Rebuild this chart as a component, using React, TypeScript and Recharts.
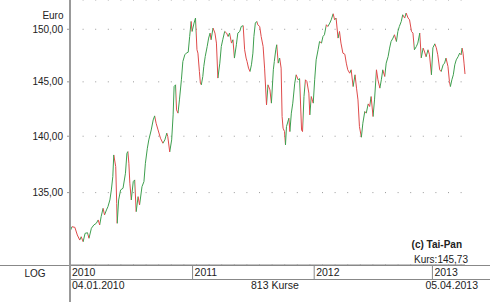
import React from 'react';
import { LineChart, Line, XAxis, YAxis, CartesianGrid } from 'recharts';

// Handelstag-Nummer (0 = 04.01.2010, 812 = 05.04.2013) und Schlusskurs in Euro
const kursTag = [
  0, 4, 10, 15, 20, 23, 27, 31, 36, 39, 44, 49, 54, 58, 61, 64, 68, 71, 75, 78,
  82, 85, 88, 90, 94, 96, 97, 100, 104, 109, 114, 117, 119, 121, 123, 126, 130, 133, 136, 140,
  143, 148, 152, 155, 159, 162, 167, 171, 174, 177, 181, 186, 191, 195, 199, 201, 205, 209, 212, 214,
  217, 219, 222, 225, 229, 232, 236, 239, 243, 246, 249, 251, 255, 258, 261, 263, 266, 268, 270, 273,
  275, 278, 282, 285, 288, 290, 294, 298, 301, 304, 308, 311, 314, 318, 322, 325, 328, 332, 335, 338,
  342, 345, 349, 352, 356, 359, 362, 364, 367, 370, 373, 376, 378, 381, 384, 386, 390, 393, 397, 400,
  404, 407, 411, 414, 418, 420, 423, 425, 428, 431, 434, 436, 438, 441, 443, 445, 450, 452, 455, 458,
  462, 465, 469, 472, 476, 478, 481, 484, 487, 491, 493, 496, 500, 503, 506, 510, 513, 517, 520, 523,
  527, 530, 534, 537, 541, 544, 547, 551, 554, 557, 561, 565, 568, 571, 575, 578, 582, 586, 589, 592,
  595, 599, 602, 606, 609, 613, 616, 619, 623, 626, 630, 633, 637, 640, 643, 647, 650, 654, 657, 660,
  664, 667, 671, 674, 677, 681, 684, 688, 691, 695, 698, 702, 705, 708, 712, 715, 719, 722, 726, 729,
  732, 736, 739, 743, 746, 750, 753, 756, 760, 763, 767, 770, 773, 777, 780, 782, 785, 788, 791, 794,
  798, 801, 804, 806, 808, 810, 812,
];

const kursWert = [
  131.64, 132.06, 132.01, 131.36, 130.93, 131.21, 130.79, 131.5, 131.55, 131.08, 131.93, 132.21, 132.35, 132.64, 132.21, 132.92, 133.64, 133.07, 133.5, 133.78,
  134.36, 135.23, 136.4, 138.32, 137.28, 134.07, 132.35, 134.36, 135.23, 135.38, 136.7, 138.47, 138.62, 137.58, 135.82, 134.36, 135.96, 136.11, 133.35, 134.65,
  133.93, 135.52, 135.96, 137.58, 138.92, 139.67, 140.57, 141.48, 141.85, 141.18, 140.57, 139.82, 139.37, 139.67, 140.28, 139.97, 138.59, 139.67, 141.94, 144.56,
  144.72, 142.4, 142.1, 143.32, 145.19, 146.91, 147.55, 147.71, 147.8, 149.3, 150.76, 149.79, 150.6, 151.09, 148.03, 147.71, 145.97, 144.88, 144.72, 145.5,
  146.44, 147.39, 148.34, 149.15, 149.63, 148.99, 150.12, 149.63, 148.67, 145.35, 146.76, 148.34, 148.99, 149.79, 149.63, 149.3, 149.63, 148.67, 148.99, 147.24,
  148.51, 149.63, 149.79, 150.27, 150.35, 148.03, 147.24, 146.91, 146.29, 145.97, 146.6, 147.71, 149.3, 150.6, 150.76, 150.44, 150.27, 149.3, 148.34, 146.29,
  142.86, 144.72, 144.25, 143.02, 146.13, 146.91, 148.03, 148.51, 146.76, 147.24, 146.29, 141.79, 140.73, 140.42, 139.22, 140.87, 141.64, 140.42, 142.1, 143.02,
  144.88, 145.66, 145.19, 145.3, 140.57, 140.42, 143.63, 145.19, 145.03, 143.95, 141.94, 143.63, 143.02, 145.19, 147.07, 148.03, 148.82, 148.67, 149.3, 149.47,
  150.44, 150.27, 150.6, 150.92, 151.51, 150.92, 151.09, 149.15, 149.79, 148.67, 147.71, 147.6, 146.76, 146.13, 145.81, 146.13, 144.56, 145.66, 144.41, 143.32,
  140.87, 139.91, 141.18, 142.25, 142.1, 142.95, 142.71, 143.63, 141.79, 143.32, 146.13, 145.19, 144.41, 145.19, 146.13, 145.5, 146.76, 147.39, 148.19, 148.82,
  149.15, 149.47, 148.82, 149.79, 150.27, 150.76, 151.41, 151.09, 151.58, 151.09, 150.92, 149.79, 149.63, 148.03, 148.34, 148.67, 149.63, 147.26, 148.19, 147.82,
  147.36, 148.03, 147.55, 145.66, 148.22, 148.6, 148.22, 147.55, 146.13, 145.97, 146.6, 146.76, 147.24, 146.44, 145.03, 144.56, 145.19, 145.66, 146.6, 147.07,
  147.39, 147.71, 147.55, 148.19, 147.71, 146.76, 145.73,
];

const jahrTicks = [0, 252, 502, 745];
const jahrNamen = ['2010', '2011', '2012', '2013'];
const euroTicks = [135, 140, 145, 150];

const GRUEN = '#3e9e4e';
const ROT = '#de4a4a';
const SCHRIFT = '"Liberation Sans", Arial, Helvetica, sans-serif';

const daten = kursTag.map((tag, k) => ({ tag, kurs: kursWert[k] }));

function JahrTick(props: any) {
  const { x, payload } = props;
  const name = jahrNamen[jahrTicks.indexOf(payload.value)];
  return (
    <g>
      <line x1={x} y1={265} x2={x} y2={279} stroke="#888" />
      <text x={x + 2} y={276} fontSize={10.5} fontFamily={SCHRIFT} fill="#222">
        {name}
      </text>
    </g>
  );
}

export default function App() {
  const letzter = kursTag[kursTag.length - 1];
  const stops: React.ReactNode[] = [];
  for (let k = 0; k < kursTag.length - 1; k++) {
    const farbe = kursWert[k + 1] >= kursWert[k] ? GRUEN : ROT;
    stops.push(<stop key={'a' + k} offset={kursTag[k] / letzter} stopColor={farbe} />);
    stops.push(<stop key={'b' + k} offset={kursTag[k + 1] / letzter} stopColor={farbe} />);
  }

  return (
    <div style={{ position: 'absolute', left: 0, top: 0, width: 490, height: 302, fontFamily: SCHRIFT, background: '#fff' }}>
      <LineChart width={490} height={302} data={daten} margin={{ top: 0, right: 25, left: 0, bottom: 0 }}>
        <defs>
          <linearGradient id="kursFarbe" x1="0" y1="0" x2="1" y2="0">
            {stops}
          </linearGradient>
        </defs>
        <CartesianGrid vertical={false} stroke="#999" strokeDasharray="1 11.6" />
        <XAxis
          type="number"
          dataKey="tag"
          domain={[0, 812]}
          ticks={jahrTicks}
          interval={0}
          tick={<JahrTick />}
          tickLine={false}
          axisLine={{ stroke: '#888' }}
          height={37}
        />
        <YAxis
          type="number"
          scale="log"
          domain={[128.84, 152.86]}
          allowDataOverflow
          ticks={euroTicks}
          interval={0}
          width={70}
          tickSize={3}
          tickMargin={4}
          tickFormatter={(v: number) => v.toFixed(2).replace('.', ',')}
          axisLine={{ stroke: '#999', strokeWidth: 2 }}
          tickLine={{ stroke: '#999' }}
          tick={{ fill: '#222', fontSize: 10, fontFamily: SCHRIFT }}
        />
        <Line
          type="linear"
          dataKey="kurs"
          stroke="url(#kursFarbe)"
          strokeWidth={1}
          dot={false}
          activeDot={false}
          isAnimationActive={false}
        />
      </LineChart>
      <svg width={490} height={302} style={{ position: 'absolute', left: 0, top: 0, pointerEvents: 'none' }}>
        <line x1={0} y1={265.5} x2={490} y2={265.5} stroke="#888" />
        <line x1={70} y1={279.5} x2={490} y2={279.5} stroke="#888" />
        <line x1={70} y1={265} x2={70} y2={302} stroke="#999" strokeWidth={2} />
        <g fontFamily={SCHRIFT} fill="#222">
          <text x={63.5} y={19} fontSize={10} textAnchor="end">Euro</text>
          <text x={35} y={276.7} fontSize={10} textAnchor="middle">LOG</text>
          <text x={72} y={289} fontSize={10.5}>04.01.2010</text>
          <text x={251} y={288.5} fontSize={10.5}>813 Kurse</text>
          <text x={478} y={288.5} fontSize={10.5} textAnchor="end">05.04.2013</text>
          <text x={462} y={248} fontSize={10} fontWeight="bold" textAnchor="end">(c) Tai-Pan</text>
          <text x={468} y={262.5} fontSize={10} textAnchor="end">Kurs:145,73</text>
        </g>
      </svg>
    </div>
  );
}
